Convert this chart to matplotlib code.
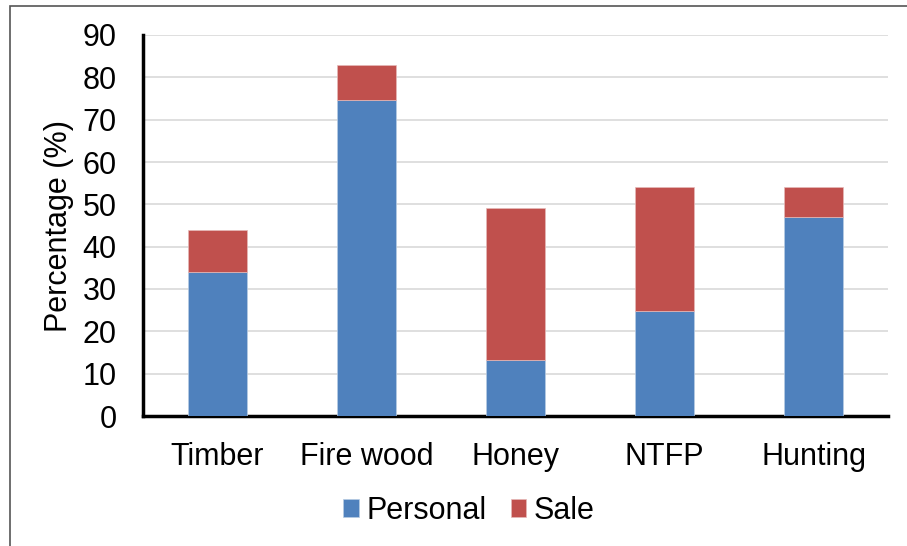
import matplotlib
matplotlib.use("Agg")
import matplotlib.pyplot as plt
from matplotlib.patches import Rectangle

categories = ["Timber", "Fire wood", "Honey", "NTFP", "Hunting"]
personal = [34, 74.6, 13.2, 24.7, 47]
sale = [10, 8.2, 36.0, 29.3, 7]
yticks = [0, 10, 20, 30, 40, 50, 60, 70, 80, 90]

plt.rcParams['font.family'] = ['Liberation Sans', 'DejaVu Sans']
FS = 22

fig = plt.figure(figsize=(9.07, 5.46), dpi=100)
W, H = 907, 546
ax = fig.add_axes([143 / W, 1 - 416 / H, (888 - 143) / W, (416 - 35) / H])

x = list(range(len(categories)))
ax.bar(x, personal, width=0.4, color="#4F81BD", edgecolor="#b8cce4", linewidth=0.5, label="Personal", zorder=3)
ax.bar(x, sale, width=0.4, bottom=personal, color="#C0504D", edgecolor="#e6b9b8", linewidth=0.5, label="Sale", zorder=3)

ax.set_xlim(-0.5, len(categories) - 0.5)
ax.set_ylim(0, 90)
ax.set_yticks(yticks)
ax.set_xticks(x)
ax.set_xticklabels(categories)
ax.tick_params(axis='both', length=0, labelsize=FS, colors='black')
ax.tick_params(axis='y', pad=19)
ax.tick_params(axis='x', pad=19)
ax.yaxis.grid(True, color="#d9d9d9", linewidth=1.2, zorder=0)
ax.set_axisbelow(True)
for s in ['top', 'right']:
    ax.spines[s].set_visible(False)
for s in ['left', 'bottom']:
    ax.spines[s].set_linewidth(2.5)
    ax.spines[s].set_color('black')
ax.set_ylabel("Percentage (%)", fontsize=FS, labelpad=6)

leg = fig.legend(loc='center', bbox_to_anchor=(469 / W, 1 - 511 / H), ncol=2, frameon=False,
                 fontsize=FS, handlelength=0.5, handleheight=0.5, handletextpad=0.25, columnspacing=0.8)

fig.patches.append(Rectangle((10 / W, -0.1), 1.2, 1 - 6 / H + 0.1, transform=fig.transFigure,
                             fill=False, edgecolor='#555555', linewidth=1.2))

fig.savefig("out.png", dpi=100)
